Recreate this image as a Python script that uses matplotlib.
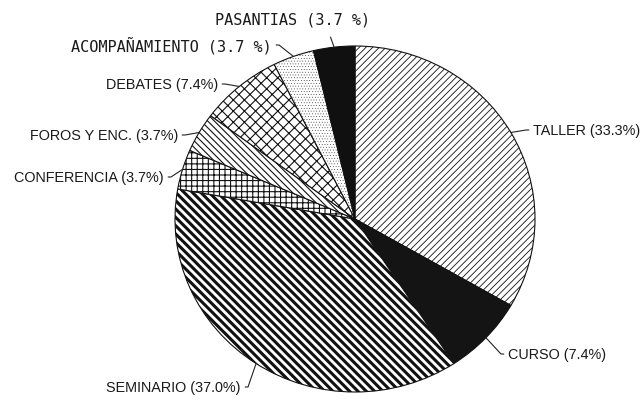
import numpy as np
import matplotlib
matplotlib.use("Agg")
import matplotlib.pyplot as plt

# Share of activity types (percent of 27 activities)
categories = ["TALLER", "CURSO", "SEMINARIO", "CONFERENCIA",
              "FOROS Y ENC.", "DEBATES", "ACOMPAÑAMIENTO", "PASANTIAS"]
shares = [33.3, 7.4, 37.0, 3.7, 3.7, 7.4, 3.7, 3.7]

# Fill style per slice: (facecolor, hatch, hatch linewidth)
styles = [
    ("white", "/" * 5, 0.6),
    ("#141414", None, 0.6),
    ("white", "\\" * 4, 2.2),
    ("white", "+++", 0.8),
    ("white", "\\" * 5, 0.8),
    ("white", "xxx", 0.8),
    ("white", "......", 0.2),
    ("#101010", None, 0.6),
]

# Label placement in pixel units: (x, y, ha, family, text format)
SANS = ["Liberation Sans", "DejaVu Sans"]
MONO = ["DejaVu Sans Mono"]
layout = [
    (533, 131, "left", SANS, "{c} ({v:.1f}%)"),
    (508, 355, "left", SANS, "{c} ({v:.1f}%)"),
    (241, 388, "right", SANS, "{c} ({v:.1f}%)"),
    (164, 178, "right", SANS, "{c} ({v:.1f}%)"),
    (178, 136, "right", SANS, "{c} ({v:.1f}%)"),
    (218, 85, "right", SANS, "{c} ({v:.1f}%)"),
    (272, 46, "right", MONO, "{c} ({v:.1f} %)"),
    (215, 20, "left", MONO, "{c} ({v:.1f} %)"),
]

W, H = 642, 402
SY = 180 / 173          # vertical squash of the pie
CX, CY, R = 355, 220 * SY, 180

fig = plt.figure(figsize=(W / 100, H / 100), dpi=100)
ax = fig.add_axes([0, 0, 1, 1])

wedges, _ = ax.pie(shares, center=(CX, CY), radius=R, startangle=-90,
                   counterclock=True, frame=True,
                   wedgeprops=dict(edgecolor="#111111", linewidth=0.8))

for w, (fc, hatch, hlw) in zip(wedges, styles):
    w.set_facecolor(fc)
    if hatch:
        w.set_hatch(hatch)
        if hasattr(w, "set_hatch_linewidth"):
            w.set_hatch_linewidth(hlw)

ax.set_aspect("auto")
ax.set_xlim(0, W)
ax.set_ylim(H * SY, 0)
ax.axis("off")

for w, cat, val, (tx, ty, ha, fam, fmt) in zip(wedges, categories, shares, layout):
    mid = np.deg2rad((w.theta1 + w.theta2) / 2)
    edge = (CX + R * np.cos(mid), CY + R * np.sin(mid))
    text = fmt.format(c=cat, v=val)
    if cat == "PASANTIAS":
        arrow = dict(arrowstyle="-", color="#222222", lw=0.8,
                     shrinkA=6, shrinkB=0, relpos=(0.72, 0.0),
                     connectionstyle="arc3")
    else:
        angA = 0 if ha == "right" else 180
        arrow = dict(arrowstyle="-", color="#222222", lw=0.8,
                     shrinkA=1, shrinkB=0,
                     relpos=(1.0, 0.5) if ha == "right" else (0.0, 0.5),
                     connectionstyle=f"arc,angleA={angA},angleB=0,armA=7,armB=0,rad=0")
    ax.annotate(text, xy=edge, xytext=(tx, ty * SY), textcoords="data",
                ha=ha, va="center", fontsize=10.4 if fam is SANS else 11,
                family=fam, color="#1a1a1a", arrowprops=arrow)

fig.savefig("out.png", dpi=100, facecolor="white")
